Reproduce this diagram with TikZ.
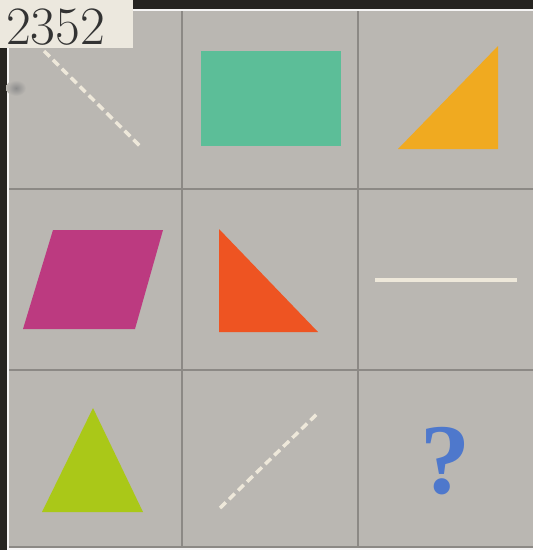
\documentclass[tikz,border=0pt]{standalone}
\usepackage{tikz}
\usepackage{fontspec}
\usetikzlibrary{calc}
\newfontfamily\qfont{Liberation Serif}
\definecolor{board}{RGB}{186,183,178}
\definecolor{gridgray}{RGB}{140,137,133}
\definecolor{edgedark}{RGB}{38,36,33}
\definecolor{labelpaper}{RGB}{236,232,222}
\definecolor{chalk}{RGB}{238,232,218}
\definecolor{mint}{RGB}{92,190,152}
\definecolor{amber}{RGB}{240,170,32}
\definecolor{magenta}{RGB}{188,58,128}
\definecolor{redorange}{RGB}{238,84,34}
\definecolor{lime}{RGB}{170,200,24}
\definecolor{qblue}{RGB}{78,120,204}

\begin{document}
\begin{tikzpicture}[x=1pt,y=-1pt,
    gridline/.style={gridgray,line width=1.2pt},
    chalkline/.style={chalk,line width=3.5pt},
    chalkdash/.style={chalk,line width=3.5pt,dash pattern=on 8pt off 4.6pt}]
      \useasboundingbox (0,0) rectangle (533,550);
      % photo edges and board
      \fill[edgedark] (0,0) rectangle (533,550);
      \fill[white!85!board] (7,9) rectangle (533,550);
      \fill[board] (9,11) rectangle (533,548);
      \shade[inner color=black!45,outer color=board] (16,88) ellipse (10 and 8);
      % grid
      \draw[gridline] (182,11) -- (182,548);
      \draw[gridline] (358,11) -- (358,548);
      \draw[gridline] (9,189) -- (533,189);
      \draw[gridline] (9,370) -- (533,370);
      \draw[gridline] (9,547) -- (533,547);
      % first row
      \draw[chalkdash] (44,51) -- (142,148);
      \fill[mint] (201,51) rectangle (341,146);
      \fill[amber] (398,149) -- (498,46) -- (498,149) -- cycle;
      % second row
      \fill[magenta] (53,230) -- (163,230) -- (135,329) -- (23,329) -- cycle;
      \fill[redorange] (219,229) -- (219,332) -- (318,332) -- cycle;
      \draw[chalkline] (375,280) -- (517,280);
      % third row
      \fill[lime] (93,408) -- (143,512) -- (42,512) -- cycle;
      \draw[chalkdash] (220,508) -- (319,412);
      \node[qblue,font=\fontsize{100}{100}\selectfont\qfont\bfseries] (query) at (445,461) {?};
      % label
      \fill[labelpaper] (0,0) rectangle (133,48);
      \node[anchor=west,inner sep=0,text=black!80,font=\fontsize{54}{54}\selectfont] (tag) at (6,27) {2352};
    \end{tikzpicture}
\end{document}
